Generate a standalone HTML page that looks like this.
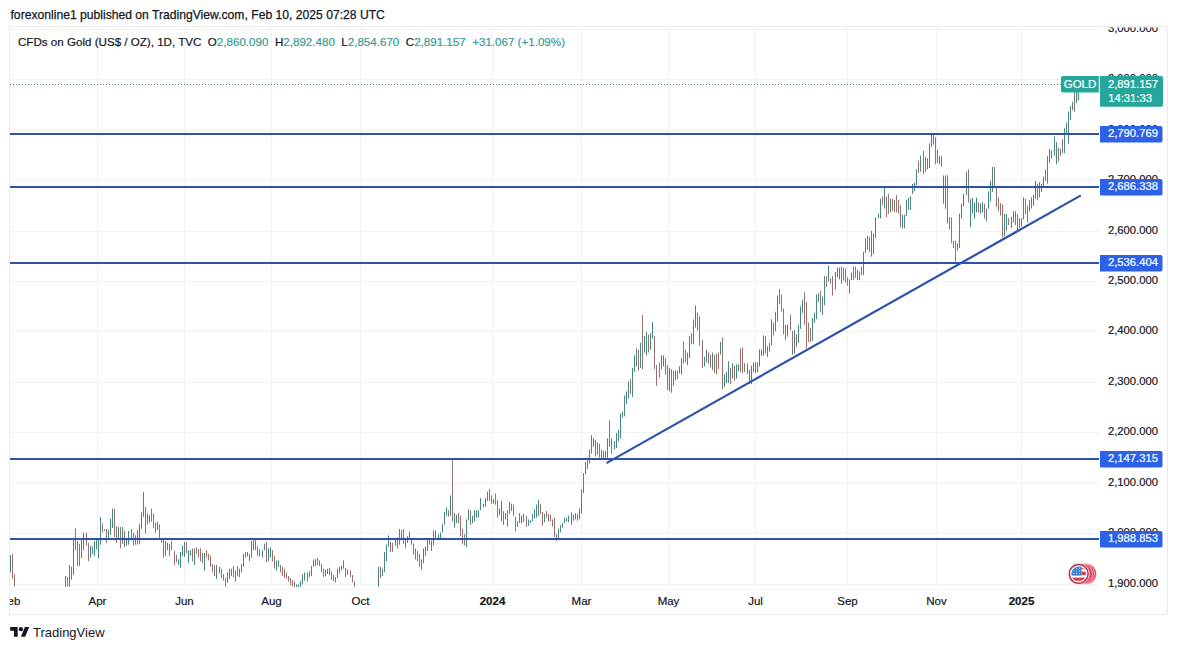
<!DOCTYPE html>
<html><head><meta charset="utf-8"><style>
html,body{margin:0;padding:0;background:#fff;width:1177px;height:650px;overflow:hidden}
svg{position:absolute;left:0;top:0}
text{font-family:"Liberation Sans",sans-serif}
.ax{font-size:11.25px;fill:#131722;stroke:#131722;stroke-width:0.2px}
.lb{font-size:11.25px;fill:#fff;stroke:#fff;stroke-width:0.2px}
.tl{font-size:11.5px;fill:#131722;stroke:#131722;stroke-width:0.2px}
.b{font-weight:bold}
.lg{font-size:11.6px;fill:#131722;stroke:#131722;stroke-width:0.2px}
.tv{fill:#3a9b90;stroke:#3a9b90}
</style></head><body>
<svg width="1177" height="650" viewBox="0 0 1177 650">
<defs>
<clipPath id="pane"><rect x="10" y="27" width="1089" height="560"/></clipPath>
<clipPath id="axc"><rect x="1099" y="27.5" width="68" height="587"/></clipPath>
<clipPath id="tax"><rect x="10" y="587" width="1089" height="27"/></clipPath>
<clipPath id="flagc"><circle cx="1078.7" cy="573.9" r="7.4"/></clipPath>
</defs>
<text x="10.5" y="18.8" style="font-size:12.15px;stroke:#131722;stroke-width:0.25px" fill="#131722">forexonline1 published on TradingView.com, Feb 10, 2025 07:28 UTC</text>
<rect x="9.5" y="26.5" width="1158" height="588" fill="none" stroke="#ebebeb" stroke-width="1"/>
<rect x="10" y="589" width="1089" height="1" fill="#f8f8f8"/><rect x="10" y="609" width="1157" height="1" fill="#fafafa"/>
<g clip-path="url(#pane)">
<rect x="10" y="29" width="1089" height="1" fill="#f2f2f2"/><rect x="10" y="79" width="1089" height="1" fill="#f2f2f2"/><rect x="10" y="130" width="1089" height="1" fill="#f2f2f2"/><rect x="10" y="180" width="1089" height="1" fill="#f2f2f2"/><rect x="10" y="231" width="1089" height="1" fill="#f2f2f2"/><rect x="10" y="281" width="1089" height="1" fill="#f2f2f2"/><rect x="10" y="331" width="1089" height="1" fill="#f2f2f2"/><rect x="10" y="382" width="1089" height="1" fill="#f2f2f2"/><rect x="10" y="432" width="1089" height="1" fill="#f2f2f2"/><rect x="10" y="483" width="1089" height="1" fill="#f2f2f2"/><rect x="10" y="533" width="1089" height="1" fill="#f2f2f2"/><rect x="10" y="584" width="1089" height="1" fill="#f2f2f2"/><rect x="97" y="27" width="1" height="560" fill="#f2f2f2"/><rect x="184" y="27" width="1" height="560" fill="#f2f2f2"/><rect x="271" y="27" width="1" height="560" fill="#f2f2f2"/><rect x="360" y="27" width="1" height="560" fill="#f2f2f2"/><rect x="492" y="27" width="1" height="560" fill="#f2f2f2"/><rect x="581" y="27" width="1" height="560" fill="#f2f2f2"/><rect x="668" y="27" width="1" height="560" fill="#f2f2f2"/><rect x="755" y="27" width="1" height="560" fill="#f2f2f2"/><rect x="847" y="27" width="1" height="560" fill="#f2f2f2"/><rect x="936" y="27" width="1" height="560" fill="#f2f2f2"/><rect x="1021" y="27" width="1" height="560" fill="#f2f2f2"/>
<rect x="10" y="554.8" width="1" height="17.6" fill="#47877f"/><rect x="12" y="553.9" width="1" height="24.9" fill="#98716d"/><rect x="14" y="574.2" width="1" height="12.6" fill="#98716d"/><rect x="65" y="576.1" width="1" height="10.7" fill="#47877f"/><rect x="67" y="577.0" width="1" height="9.2" fill="#98716d"/><rect x="69" y="565.0" width="1" height="21.8" fill="#47877f"/><rect x="71" y="566.8" width="1" height="12.9" fill="#47877f"/><rect x="73" y="539.1" width="1" height="36.0" fill="#47877f"/><rect x="75" y="528.4" width="1" height="21.8" fill="#98716d"/><rect x="77" y="541.0" width="1" height="24.9" fill="#98716d"/><rect x="79" y="543.7" width="1" height="22.2" fill="#98716d"/><rect x="81" y="538.2" width="1" height="19.9" fill="#47877f"/><rect x="83" y="532.7" width="1" height="17.6" fill="#47877f"/><rect x="86" y="532.7" width="1" height="12.9" fill="#98716d"/><rect x="88" y="542.8" width="1" height="18.5" fill="#98716d"/><rect x="90" y="545.6" width="1" height="12.0" fill="#47877f"/><rect x="92" y="546.5" width="1" height="7.4" fill="#47877f"/><rect x="94" y="541.0" width="1" height="14.8" fill="#47877f"/><rect x="96" y="539.1" width="1" height="10.2" fill="#47877f"/><rect x="98" y="540.0" width="1" height="18.5" fill="#47877f"/><rect x="100" y="516.9" width="1" height="27.7" fill="#47877f"/><rect x="102" y="523.4" width="1" height="9.2" fill="#98716d"/><rect x="104" y="529.0" width="1" height="1.8" fill="#98716d"/><rect x="106" y="529.0" width="1" height="13.9" fill="#98716d"/><rect x="108" y="529.9" width="1" height="8.3" fill="#47877f"/><rect x="110" y="518.8" width="1" height="15.7" fill="#47877f"/><rect x="112" y="508.6" width="1" height="19.4" fill="#47877f"/><rect x="114" y="508.6" width="1" height="28.6" fill="#98716d"/><rect x="116" y="526.2" width="1" height="16.6" fill="#98716d"/><rect x="118" y="527.1" width="1" height="12.9" fill="#47877f"/><rect x="120" y="527.1" width="1" height="21.2" fill="#98716d"/><rect x="122" y="527.1" width="1" height="16.6" fill="#47877f"/><rect x="124" y="530.8" width="1" height="16.6" fill="#98716d"/><rect x="126" y="538.2" width="1" height="7.4" fill="#47877f"/><rect x="128" y="530.8" width="1" height="13.9" fill="#47877f"/><rect x="131" y="529.0" width="1" height="11.1" fill="#98716d"/><rect x="133" y="532.7" width="1" height="12.9" fill="#98716d"/><rect x="135" y="535.4" width="1" height="9.2" fill="#47877f"/><rect x="137" y="529.9" width="1" height="14.8" fill="#98716d"/><rect x="139" y="524.3" width="1" height="19.4" fill="#47877f"/><rect x="141" y="512.3" width="1" height="16.6" fill="#47877f"/><rect x="143" y="492.0" width="1" height="24.9" fill="#47877f"/><rect x="145" y="506.8" width="1" height="26.8" fill="#98716d"/><rect x="147" y="513.3" width="1" height="11.1" fill="#47877f"/><rect x="149" y="515.1" width="1" height="7.4" fill="#47877f"/><rect x="151" y="508.6" width="1" height="12.9" fill="#98716d"/><rect x="153" y="513.3" width="1" height="14.8" fill="#98716d"/><rect x="155" y="522.5" width="1" height="10.2" fill="#98716d"/><rect x="157" y="521.6" width="1" height="8.3" fill="#47877f"/><rect x="159" y="524.3" width="1" height="13.9" fill="#98716d"/><rect x="161" y="538.2" width="1" height="4.6" fill="#98716d"/><rect x="163" y="539.1" width="1" height="18.5" fill="#98716d"/><rect x="165" y="541.0" width="1" height="14.8" fill="#47877f"/><rect x="167" y="542.8" width="1" height="7.4" fill="#47877f"/><rect x="169" y="543.7" width="1" height="12.0" fill="#47877f"/><rect x="171" y="541.0" width="1" height="9.2" fill="#98716d"/><rect x="174" y="551.1" width="1" height="13.9" fill="#98716d"/><rect x="176" y="554.8" width="1" height="7.4" fill="#98716d"/><rect x="178" y="559.4" width="1" height="5.5" fill="#47877f"/><rect x="180" y="552.0" width="1" height="15.7" fill="#47877f"/><rect x="182" y="545.6" width="1" height="10.2" fill="#47877f"/><rect x="184" y="541.9" width="1" height="14.8" fill="#47877f"/><rect x="186" y="541.9" width="1" height="11.1" fill="#98716d"/><rect x="188" y="550.2" width="1" height="12.9" fill="#47877f"/><rect x="190" y="550.2" width="1" height="5.5" fill="#47877f"/><rect x="192" y="548.4" width="1" height="12.9" fill="#98716d"/><rect x="194" y="548.4" width="1" height="16.6" fill="#47877f"/><rect x="196" y="547.4" width="1" height="6.5" fill="#98716d"/><rect x="198" y="549.3" width="1" height="8.3" fill="#98716d"/><rect x="200" y="548.4" width="1" height="12.9" fill="#98716d"/><rect x="202" y="553.0" width="1" height="10.2" fill="#98716d"/><rect x="204" y="553.0" width="1" height="17.6" fill="#47877f"/><rect x="206" y="550.2" width="1" height="7.4" fill="#98716d"/><rect x="208" y="553.9" width="1" height="6.5" fill="#98716d"/><rect x="210" y="555.7" width="1" height="11.1" fill="#98716d"/><rect x="212" y="564.1" width="1" height="8.3" fill="#98716d"/><rect x="214" y="565.0" width="1" height="11.1" fill="#98716d"/><rect x="216" y="565.0" width="1" height="13.9" fill="#47877f"/><rect x="219" y="566.8" width="1" height="6.5" fill="#47877f"/><rect x="221" y="568.7" width="1" height="9.2" fill="#98716d"/><rect x="223" y="574.2" width="1" height="6.5" fill="#98716d"/><rect x="225" y="577.9" width="1" height="8.7" fill="#98716d"/><rect x="227" y="572.4" width="1" height="10.2" fill="#47877f"/><rect x="229" y="568.7" width="1" height="10.2" fill="#47877f"/><rect x="231" y="568.7" width="1" height="7.4" fill="#47877f"/><rect x="233" y="565.9" width="1" height="11.1" fill="#98716d"/><rect x="235" y="570.5" width="1" height="11.1" fill="#98716d"/><rect x="237" y="565.9" width="1" height="10.2" fill="#98716d"/><rect x="239" y="568.7" width="1" height="8.3" fill="#47877f"/><rect x="241" y="564.1" width="1" height="8.3" fill="#47877f"/><rect x="243" y="553.9" width="1" height="12.9" fill="#47877f"/><rect x="245" y="552.0" width="1" height="5.5" fill="#98716d"/><rect x="247" y="552.0" width="1" height="4.6" fill="#98716d"/><rect x="249" y="553.9" width="1" height="7.4" fill="#98716d"/><rect x="251" y="541.0" width="1" height="16.6" fill="#47877f"/><rect x="253" y="540.0" width="1" height="10.2" fill="#98716d"/><rect x="255" y="540.0" width="1" height="10.2" fill="#98716d"/><rect x="257" y="546.5" width="1" height="9.2" fill="#98716d"/><rect x="259" y="549.3" width="1" height="7.4" fill="#98716d"/><rect x="262" y="550.2" width="1" height="7.4" fill="#47877f"/><rect x="264" y="543.7" width="1" height="6.5" fill="#47877f"/><rect x="266" y="541.9" width="1" height="20.3" fill="#98716d"/><rect x="268" y="548.4" width="1" height="12.9" fill="#47877f"/><rect x="270" y="547.4" width="1" height="10.2" fill="#47877f"/><rect x="272" y="550.2" width="1" height="11.1" fill="#98716d"/><rect x="274" y="555.7" width="1" height="12.9" fill="#98716d"/><rect x="276" y="560.4" width="1" height="10.2" fill="#47877f"/><rect x="278" y="560.4" width="1" height="6.5" fill="#47877f"/><rect x="280" y="565.0" width="1" height="7.4" fill="#98716d"/><rect x="282" y="566.8" width="1" height="9.2" fill="#98716d"/><rect x="284" y="568.7" width="1" height="9.2" fill="#98716d"/><rect x="286" y="572.4" width="1" height="6.5" fill="#98716d"/><rect x="288" y="576.1" width="1" height="5.5" fill="#98716d"/><rect x="290" y="577.9" width="1" height="7.4" fill="#98716d"/><rect x="292" y="579.8" width="1" height="6.5" fill="#98716d"/><rect x="294" y="581.6" width="1" height="5.2" fill="#98716d"/><rect x="296" y="584.4" width="1" height="2.8" fill="#47877f"/><rect x="298" y="584.4" width="1" height="2.4" fill="#47877f"/><rect x="300" y="580.7" width="1" height="6.1" fill="#47877f"/><rect x="302" y="574.2" width="1" height="10.2" fill="#47877f"/><rect x="304" y="572.4" width="1" height="8.3" fill="#47877f"/><rect x="307" y="572.4" width="1" height="9.2" fill="#98716d"/><rect x="309" y="571.4" width="1" height="5.5" fill="#47877f"/><rect x="311" y="565.9" width="1" height="10.2" fill="#47877f"/><rect x="313" y="559.4" width="1" height="7.4" fill="#47877f"/><rect x="315" y="559.4" width="1" height="6.5" fill="#47877f"/><rect x="317" y="557.6" width="1" height="7.4" fill="#98716d"/><rect x="319" y="560.4" width="1" height="5.5" fill="#98716d"/><rect x="321" y="564.1" width="1" height="8.3" fill="#98716d"/><rect x="323" y="568.7" width="1" height="8.3" fill="#98716d"/><rect x="325" y="569.6" width="1" height="6.5" fill="#47877f"/><rect x="327" y="568.7" width="1" height="5.5" fill="#47877f"/><rect x="329" y="567.8" width="1" height="7.4" fill="#47877f"/><rect x="331" y="571.4" width="1" height="8.3" fill="#98716d"/><rect x="333" y="575.1" width="1" height="6.1" fill="#98716d"/><rect x="335" y="577.0" width="1" height="5.5" fill="#98716d"/><rect x="337" y="568.7" width="1" height="9.2" fill="#47877f"/><rect x="339" y="566.8" width="1" height="6.5" fill="#47877f"/><rect x="341" y="565.9" width="1" height="4.6" fill="#47877f"/><rect x="343" y="560.4" width="1" height="8.3" fill="#47877f"/><rect x="345" y="567.8" width="1" height="9.2" fill="#98716d"/><rect x="347" y="569.6" width="1" height="5.5" fill="#98716d"/><rect x="350" y="570.5" width="1" height="6.5" fill="#98716d"/><rect x="352" y="575.1" width="1" height="7.4" fill="#98716d"/><rect x="354" y="581.6" width="1" height="5.2" fill="#98716d"/><rect x="378" y="566.8" width="1" height="20.0" fill="#47877f"/><rect x="380" y="566.8" width="1" height="11.1" fill="#98716d"/><rect x="382" y="568.7" width="1" height="7.4" fill="#47877f"/><rect x="384" y="552.0" width="1" height="20.3" fill="#47877f"/><rect x="386" y="544.7" width="1" height="16.6" fill="#47877f"/><rect x="388" y="535.4" width="1" height="11.1" fill="#47877f"/><rect x="390" y="541.9" width="1" height="10.2" fill="#98716d"/><rect x="392" y="542.8" width="1" height="9.2" fill="#98716d"/><rect x="395" y="538.2" width="1" height="7.4" fill="#47877f"/><rect x="397" y="537.3" width="1" height="11.1" fill="#47877f"/><rect x="399" y="529.0" width="1" height="15.7" fill="#47877f"/><rect x="401" y="529.9" width="1" height="9.2" fill="#98716d"/><rect x="403" y="529.0" width="1" height="14.8" fill="#98716d"/><rect x="405" y="538.2" width="1" height="10.2" fill="#98716d"/><rect x="407" y="536.3" width="1" height="6.5" fill="#47877f"/><rect x="409" y="531.7" width="1" height="7.4" fill="#47877f"/><rect x="411" y="538.2" width="1" height="6.5" fill="#98716d"/><rect x="413" y="543.7" width="1" height="11.1" fill="#98716d"/><rect x="415" y="548.4" width="1" height="11.1" fill="#98716d"/><rect x="417" y="551.1" width="1" height="10.2" fill="#98716d"/><rect x="419" y="553.9" width="1" height="12.9" fill="#98716d"/><rect x="421" y="559.4" width="1" height="10.2" fill="#47877f"/><rect x="423" y="548.4" width="1" height="14.8" fill="#47877f"/><rect x="425" y="546.5" width="1" height="9.2" fill="#47877f"/><rect x="427" y="539.1" width="1" height="12.0" fill="#98716d"/><rect x="429" y="538.2" width="1" height="6.5" fill="#98716d"/><rect x="431" y="540.7" width="1" height="10.2" fill="#47877f"/><rect x="433" y="530.5" width="1" height="14.8" fill="#47877f"/><rect x="435" y="530.5" width="1" height="7.4" fill="#47877f"/><rect x="438" y="534.2" width="1" height="3.7" fill="#47877f"/><rect x="440" y="532.4" width="1" height="5.5" fill="#47877f"/><rect x="442" y="524.1" width="1" height="8.3" fill="#47877f"/><rect x="444" y="512.0" width="1" height="12.9" fill="#47877f"/><rect x="446" y="507.4" width="1" height="8.3" fill="#47877f"/><rect x="448" y="510.2" width="1" height="6.5" fill="#98716d"/><rect x="450" y="495.4" width="1" height="20.3" fill="#47877f"/><rect x="452" y="459.4" width="1" height="61.9" fill="#98716d"/><rect x="454" y="513.0" width="1" height="14.8" fill="#47877f"/><rect x="456" y="514.8" width="1" height="8.3" fill="#47877f"/><rect x="458" y="513.0" width="1" height="10.2" fill="#98716d"/><rect x="460" y="515.7" width="1" height="20.3" fill="#98716d"/><rect x="462" y="528.7" width="1" height="15.7" fill="#98716d"/><rect x="464" y="534.2" width="1" height="11.1" fill="#98716d"/><rect x="466" y="519.4" width="1" height="27.7" fill="#47877f"/><rect x="468" y="509.3" width="1" height="11.1" fill="#47877f"/><rect x="470" y="510.2" width="1" height="14.8" fill="#98716d"/><rect x="472" y="515.7" width="1" height="7.4" fill="#47877f"/><rect x="474" y="510.2" width="1" height="11.1" fill="#47877f"/><rect x="476" y="510.2" width="1" height="7.4" fill="#47877f"/><rect x="478" y="510.2" width="1" height="7.4" fill="#47877f"/><rect x="480" y="498.2" width="1" height="12.0" fill="#47877f"/><rect x="483" y="503.7" width="1" height="3.7" fill="#47877f"/><rect x="485" y="498.2" width="1" height="8.3" fill="#47877f"/><rect x="487" y="491.7" width="1" height="9.2" fill="#47877f"/><rect x="489" y="489.0" width="1" height="12.0" fill="#98716d"/><rect x="491" y="495.4" width="1" height="8.3" fill="#98716d"/><rect x="493" y="499.1" width="1" height="4.6" fill="#47877f"/><rect x="495" y="493.6" width="1" height="11.1" fill="#98716d"/><rect x="497" y="500.0" width="1" height="17.6" fill="#98716d"/><rect x="499" y="508.4" width="1" height="6.5" fill="#47877f"/><rect x="501" y="501.0" width="1" height="20.3" fill="#47877f"/><rect x="503" y="511.1" width="1" height="13.9" fill="#98716d"/><rect x="505" y="513.0" width="1" height="6.5" fill="#47877f"/><rect x="507" y="510.2" width="1" height="16.6" fill="#98716d"/><rect x="509" y="501.9" width="1" height="12.0" fill="#47877f"/><rect x="511" y="503.7" width="1" height="7.4" fill="#47877f"/><rect x="513" y="504.7" width="1" height="11.1" fill="#98716d"/><rect x="515" y="516.7" width="1" height="14.8" fill="#98716d"/><rect x="517" y="521.3" width="1" height="5.5" fill="#47877f"/><rect x="519" y="513.0" width="1" height="10.2" fill="#98716d"/><rect x="521" y="515.7" width="1" height="7.4" fill="#47877f"/><rect x="523" y="513.9" width="1" height="8.3" fill="#98716d"/><rect x="526" y="515.7" width="1" height="11.1" fill="#98716d"/><rect x="528" y="519.4" width="1" height="6.5" fill="#47877f"/><rect x="530" y="520.4" width="1" height="2.8" fill="#47877f"/><rect x="532" y="513.9" width="1" height="7.4" fill="#47877f"/><rect x="534" y="509.3" width="1" height="9.2" fill="#47877f"/><rect x="536" y="504.7" width="1" height="12.9" fill="#47877f"/><rect x="538" y="500.0" width="1" height="15.7" fill="#47877f"/><rect x="540" y="503.7" width="1" height="10.2" fill="#98716d"/><rect x="542" y="512.0" width="1" height="13.9" fill="#98716d"/><rect x="544" y="513.9" width="1" height="8.3" fill="#47877f"/><rect x="546" y="511.1" width="1" height="6.5" fill="#98716d"/><rect x="548" y="513.9" width="1" height="7.4" fill="#98716d"/><rect x="550" y="514.8" width="1" height="6.5" fill="#98716d"/><rect x="552" y="519.4" width="1" height="7.4" fill="#98716d"/><rect x="554" y="517.6" width="1" height="19.4" fill="#98716d"/><rect x="556" y="534.2" width="1" height="6.5" fill="#98716d"/><rect x="558" y="528.7" width="1" height="9.2" fill="#47877f"/><rect x="560" y="525.0" width="1" height="7.4" fill="#47877f"/><rect x="562" y="523.1" width="1" height="4.6" fill="#47877f"/><rect x="564" y="517.6" width="1" height="5.5" fill="#47877f"/><rect x="566" y="517.6" width="1" height="3.7" fill="#47877f"/><rect x="568" y="515.7" width="1" height="6.5" fill="#47877f"/><rect x="571" y="512.3" width="1" height="12.3" fill="#47877f"/><rect x="573" y="514.6" width="1" height="6.2" fill="#98716d"/><rect x="575" y="513.1" width="1" height="6.2" fill="#47877f"/><rect x="577" y="513.8" width="1" height="6.9" fill="#98716d"/><rect x="579" y="508.5" width="1" height="10.8" fill="#47877f"/><rect x="581" y="489.2" width="1" height="24.6" fill="#47877f"/><rect x="583" y="473.1" width="1" height="20.0" fill="#47877f"/><rect x="585" y="461.9" width="1" height="12.5" fill="#47877f"/><rect x="587" y="457.8" width="1" height="11.1" fill="#47877f"/><rect x="589" y="449.5" width="1" height="13.8" fill="#47877f"/><rect x="591" y="435.1" width="1" height="18.5" fill="#47877f"/><rect x="593" y="438.4" width="1" height="8.3" fill="#47877f"/><rect x="595" y="439.8" width="1" height="16.6" fill="#98716d"/><rect x="597" y="442.5" width="1" height="12.5" fill="#98716d"/><rect x="599" y="443.9" width="1" height="13.8" fill="#98716d"/><rect x="601" y="449.5" width="1" height="9.7" fill="#98716d"/><rect x="603" y="450.8" width="1" height="8.3" fill="#47877f"/><rect x="605" y="450.8" width="1" height="6.9" fill="#47877f"/><rect x="607" y="438.4" width="1" height="19.4" fill="#47877f"/><rect x="609" y="420.4" width="1" height="26.3" fill="#98716d"/><rect x="611" y="438.4" width="1" height="15.2" fill="#98716d"/><rect x="614" y="441.2" width="1" height="8.3" fill="#47877f"/><rect x="616" y="432.9" width="1" height="15.2" fill="#47877f"/><rect x="618" y="430.1" width="1" height="11.1" fill="#47877f"/><rect x="620" y="413.5" width="1" height="24.9" fill="#47877f"/><rect x="622" y="412.1" width="1" height="5.5" fill="#47877f"/><rect x="624" y="395.5" width="1" height="20.8" fill="#47877f"/><rect x="626" y="391.3" width="1" height="12.5" fill="#47877f"/><rect x="628" y="381.6" width="1" height="16.6" fill="#47877f"/><rect x="630" y="378.9" width="1" height="15.2" fill="#98716d"/><rect x="632" y="367.8" width="1" height="29.1" fill="#47877f"/><rect x="634" y="355.4" width="1" height="16.6" fill="#47877f"/><rect x="636" y="348.4" width="1" height="18.0" fill="#47877f"/><rect x="638" y="349.8" width="1" height="20.8" fill="#98716d"/><rect x="640" y="342.9" width="1" height="24.9" fill="#47877f"/><rect x="642" y="315.2" width="1" height="54.0" fill="#98716d"/><rect x="644" y="336.0" width="1" height="16.6" fill="#47877f"/><rect x="646" y="331.8" width="1" height="23.5" fill="#47877f"/><rect x="648" y="334.6" width="1" height="18.0" fill="#98716d"/><rect x="650" y="333.2" width="1" height="16.6" fill="#47877f"/><rect x="652" y="322.1" width="1" height="16.6" fill="#47877f"/><rect x="654" y="336.0" width="1" height="33.2" fill="#98716d"/><rect x="656" y="365.0" width="1" height="20.8" fill="#98716d"/><rect x="659" y="362.3" width="1" height="15.2" fill="#98716d"/><rect x="661" y="355.4" width="1" height="13.8" fill="#47877f"/><rect x="663" y="355.4" width="1" height="11.1" fill="#47877f"/><rect x="665" y="358.1" width="1" height="16.6" fill="#98716d"/><rect x="667" y="365.0" width="1" height="24.9" fill="#98716d"/><rect x="669" y="367.8" width="1" height="23.5" fill="#47877f"/><rect x="671" y="369.2" width="1" height="23.5" fill="#98716d"/><rect x="673" y="370.6" width="1" height="15.2" fill="#98716d"/><rect x="675" y="370.6" width="1" height="9.7" fill="#47877f"/><rect x="677" y="370.6" width="1" height="8.3" fill="#98716d"/><rect x="679" y="366.4" width="1" height="6.9" fill="#47877f"/><rect x="681" y="358.1" width="1" height="16.6" fill="#47877f"/><rect x="683" y="341.5" width="1" height="22.1" fill="#98716d"/><rect x="685" y="349.8" width="1" height="12.5" fill="#98716d"/><rect x="687" y="352.6" width="1" height="12.5" fill="#47877f"/><rect x="689" y="336.0" width="1" height="22.1" fill="#47877f"/><rect x="691" y="333.2" width="1" height="11.1" fill="#47877f"/><rect x="693" y="319.4" width="1" height="24.9" fill="#47877f"/><rect x="695" y="305.5" width="1" height="22.1" fill="#47877f"/><rect x="697" y="312.5" width="1" height="18.0" fill="#98716d"/><rect x="699" y="316.6" width="1" height="29.1" fill="#98716d"/><rect x="702" y="340.1" width="1" height="27.7" fill="#98716d"/><rect x="704" y="356.7" width="1" height="9.7" fill="#47877f"/><rect x="706" y="349.8" width="1" height="12.5" fill="#47877f"/><rect x="708" y="352.6" width="1" height="11.1" fill="#98716d"/><rect x="710" y="354.8" width="1" height="12.9" fill="#98716d"/><rect x="712" y="352.7" width="1" height="17.2" fill="#47877f"/><rect x="714" y="354.8" width="1" height="18.3" fill="#98716d"/><rect x="716" y="353.8" width="1" height="20.5" fill="#98716d"/><rect x="718" y="352.7" width="1" height="16.2" fill="#98716d"/><rect x="720" y="341.9" width="1" height="12.9" fill="#47877f"/><rect x="722" y="337.6" width="1" height="51.7" fill="#98716d"/><rect x="724" y="374.2" width="1" height="12.9" fill="#47877f"/><rect x="726" y="372.1" width="1" height="10.8" fill="#47877f"/><rect x="728" y="361.3" width="1" height="21.6" fill="#47877f"/><rect x="730" y="367.8" width="1" height="16.2" fill="#98716d"/><rect x="732" y="363.4" width="1" height="15.1" fill="#47877f"/><rect x="734" y="365.6" width="1" height="15.1" fill="#98716d"/><rect x="736" y="364.5" width="1" height="14.0" fill="#47877f"/><rect x="738" y="364.5" width="1" height="6.5" fill="#47877f"/><rect x="740" y="348.4" width="1" height="23.7" fill="#98716d"/><rect x="742" y="347.3" width="1" height="25.9" fill="#98716d"/><rect x="744" y="363.4" width="1" height="8.6" fill="#98716d"/><rect x="747" y="363.4" width="1" height="10.8" fill="#98716d"/><rect x="749" y="369.9" width="1" height="14.0" fill="#47877f"/><rect x="751" y="365.6" width="1" height="18.3" fill="#47877f"/><rect x="753" y="362.4" width="1" height="9.7" fill="#47877f"/><rect x="755" y="362.4" width="1" height="10.8" fill="#47877f"/><rect x="757" y="362.4" width="1" height="9.7" fill="#47877f"/><rect x="759" y="349.4" width="1" height="17.2" fill="#47877f"/><rect x="761" y="349.4" width="1" height="6.5" fill="#47877f"/><rect x="763" y="335.4" width="1" height="20.5" fill="#47877f"/><rect x="765" y="336.5" width="1" height="17.2" fill="#98716d"/><rect x="767" y="346.2" width="1" height="10.8" fill="#47877f"/><rect x="769" y="343.0" width="1" height="8.6" fill="#47877f"/><rect x="771" y="319.3" width="1" height="25.9" fill="#47877f"/><rect x="773" y="322.5" width="1" height="12.9" fill="#98716d"/><rect x="775" y="311.7" width="1" height="19.4" fill="#47877f"/><rect x="777" y="295.6" width="1" height="25.9" fill="#47877f"/><rect x="779" y="289.1" width="1" height="15.1" fill="#98716d"/><rect x="781" y="294.5" width="1" height="17.2" fill="#98716d"/><rect x="783" y="308.5" width="1" height="25.9" fill="#98716d"/><rect x="785" y="324.7" width="1" height="15.1" fill="#98716d"/><rect x="787" y="324.7" width="1" height="11.9" fill="#47877f"/><rect x="790" y="315.0" width="1" height="15.1" fill="#98716d"/><rect x="792" y="331.1" width="1" height="23.7" fill="#98716d"/><rect x="794" y="330.0" width="1" height="23.7" fill="#47877f"/><rect x="796" y="334.4" width="1" height="12.9" fill="#98716d"/><rect x="798" y="324.7" width="1" height="18.3" fill="#47877f"/><rect x="800" y="306.3" width="1" height="22.6" fill="#47877f"/><rect x="802" y="299.9" width="1" height="12.9" fill="#47877f"/><rect x="804" y="292.3" width="1" height="32.3" fill="#98716d"/><rect x="806" y="302.0" width="1" height="46.3" fill="#98716d"/><rect x="808" y="322.5" width="1" height="19.4" fill="#98716d"/><rect x="810" y="327.9" width="1" height="14.0" fill="#98716d"/><rect x="812" y="318.2" width="1" height="22.6" fill="#47877f"/><rect x="814" y="312.8" width="1" height="9.7" fill="#47877f"/><rect x="816" y="294.5" width="1" height="24.8" fill="#47877f"/><rect x="818" y="293.4" width="1" height="8.6" fill="#47877f"/><rect x="820" y="291.2" width="1" height="20.5" fill="#98716d"/><rect x="822" y="296.6" width="1" height="18.3" fill="#47877f"/><rect x="824" y="276.2" width="1" height="29.1" fill="#47877f"/><rect x="826" y="276.2" width="1" height="10.8" fill="#98716d"/><rect x="828" y="265.4" width="1" height="16.2" fill="#47877f"/><rect x="830" y="278.3" width="1" height="5.4" fill="#98716d"/><rect x="832" y="276.2" width="1" height="19.4" fill="#98716d"/><rect x="835" y="271.9" width="1" height="17.2" fill="#47877f"/><rect x="837" y="267.5" width="1" height="9.7" fill="#47877f"/><rect x="839" y="267.5" width="1" height="11.9" fill="#47877f"/><rect x="841" y="266.5" width="1" height="17.2" fill="#98716d"/><rect x="843" y="267.5" width="1" height="12.9" fill="#98716d"/><rect x="845" y="268.6" width="1" height="14.0" fill="#98716d"/><rect x="847" y="277.2" width="1" height="8.6" fill="#98716d"/><rect x="849" y="279.4" width="1" height="14.0" fill="#98716d"/><rect x="851" y="272.7" width="1" height="7.4" fill="#47877f"/><rect x="853" y="266.6" width="1" height="13.5" fill="#98716d"/><rect x="855" y="266.6" width="1" height="11.1" fill="#98716d"/><rect x="857" y="270.2" width="1" height="9.9" fill="#47877f"/><rect x="859" y="271.5" width="1" height="8.6" fill="#47877f"/><rect x="861" y="266.6" width="1" height="8.6" fill="#98716d"/><rect x="863" y="251.8" width="1" height="23.4" fill="#47877f"/><rect x="865" y="238.2" width="1" height="14.8" fill="#47877f"/><rect x="867" y="235.8" width="1" height="13.5" fill="#47877f"/><rect x="869" y="237.0" width="1" height="14.8" fill="#98716d"/><rect x="871" y="230.8" width="1" height="25.9" fill="#47877f"/><rect x="873" y="233.3" width="1" height="20.9" fill="#47877f"/><rect x="875" y="217.3" width="1" height="20.9" fill="#47877f"/><rect x="878" y="213.6" width="1" height="4.9" fill="#47877f"/><rect x="880" y="198.8" width="1" height="19.7" fill="#47877f"/><rect x="882" y="196.4" width="1" height="8.6" fill="#98716d"/><rect x="884" y="187.7" width="1" height="20.9" fill="#47877f"/><rect x="886" y="196.4" width="1" height="20.9" fill="#98716d"/><rect x="888" y="193.9" width="1" height="19.7" fill="#98716d"/><rect x="890" y="198.8" width="1" height="13.5" fill="#47877f"/><rect x="892" y="198.8" width="1" height="12.3" fill="#98716d"/><rect x="894" y="200.0" width="1" height="12.3" fill="#98716d"/><rect x="896" y="195.1" width="1" height="17.2" fill="#98716d"/><rect x="898" y="200.0" width="1" height="13.5" fill="#98716d"/><rect x="900" y="205.0" width="1" height="22.2" fill="#98716d"/><rect x="902" y="214.8" width="1" height="13.5" fill="#47877f"/><rect x="904" y="214.8" width="1" height="13.5" fill="#47877f"/><rect x="906" y="200.0" width="1" height="16.0" fill="#47877f"/><rect x="908" y="197.6" width="1" height="12.3" fill="#47877f"/><rect x="910" y="196.4" width="1" height="13.5" fill="#47877f"/><rect x="912" y="184.0" width="1" height="9.9" fill="#47877f"/><rect x="914" y="182.8" width="1" height="8.6" fill="#47877f"/><rect x="916" y="169.3" width="1" height="16.0" fill="#47877f"/><rect x="918" y="160.6" width="1" height="12.3" fill="#98716d"/><rect x="920" y="155.7" width="1" height="16.0" fill="#47877f"/><rect x="923" y="150.8" width="1" height="23.4" fill="#98716d"/><rect x="925" y="156.9" width="1" height="14.8" fill="#47877f"/><rect x="927" y="158.2" width="1" height="11.1" fill="#47877f"/><rect x="929" y="143.4" width="1" height="24.6" fill="#47877f"/><rect x="931" y="134.8" width="1" height="12.3" fill="#47877f"/><rect x="933" y="134.8" width="1" height="9.9" fill="#47877f"/><rect x="935" y="137.2" width="1" height="27.1" fill="#98716d"/><rect x="937" y="149.6" width="1" height="13.5" fill="#98716d"/><rect x="939" y="155.7" width="1" height="8.6" fill="#47877f"/><rect x="941" y="155.7" width="1" height="11.1" fill="#98716d"/><rect x="943" y="175.4" width="1" height="28.3" fill="#47877f"/><rect x="945" y="175.4" width="1" height="33.3" fill="#47877f"/><rect x="947" y="175.4" width="1" height="48.0" fill="#98716d"/><rect x="949" y="217.3" width="1" height="12.3" fill="#98716d"/><rect x="951" y="217.3" width="1" height="25.9" fill="#98716d"/><rect x="953" y="240.7" width="1" height="7.4" fill="#98716d"/><rect x="955" y="240.7" width="1" height="20.9" fill="#98716d"/><rect x="957" y="243.2" width="1" height="7.4" fill="#47877f"/><rect x="959" y="213.6" width="1" height="34.5" fill="#47877f"/><rect x="961" y="203.7" width="1" height="14.8" fill="#47877f"/><rect x="963" y="193.9" width="1" height="12.3" fill="#47877f"/><rect x="966" y="171.7" width="1" height="23.4" fill="#47877f"/><rect x="968" y="169.3" width="1" height="33.3" fill="#98716d"/><rect x="970" y="198.8" width="1" height="28.3" fill="#47877f"/><rect x="972" y="197.6" width="1" height="16.0" fill="#47877f"/><rect x="974" y="202.5" width="1" height="16.0" fill="#47877f"/><rect x="976" y="197.6" width="1" height="14.8" fill="#47877f"/><rect x="978" y="202.5" width="1" height="9.9" fill="#98716d"/><rect x="980" y="203.7" width="1" height="9.9" fill="#47877f"/><rect x="982" y="202.5" width="1" height="9.9" fill="#47877f"/><rect x="984" y="203.7" width="1" height="14.8" fill="#98716d"/><rect x="986" y="208.7" width="1" height="12.3" fill="#47877f"/><rect x="988" y="191.4" width="1" height="17.2" fill="#47877f"/><rect x="990" y="180.8" width="1" height="20.8" fill="#47877f"/><rect x="992" y="167.0" width="1" height="24.9" fill="#47877f"/><rect x="994" y="167.0" width="1" height="19.4" fill="#98716d"/><rect x="996" y="186.3" width="1" height="20.8" fill="#98716d"/><rect x="998" y="197.4" width="1" height="13.9" fill="#98716d"/><rect x="1000" y="203.0" width="1" height="12.5" fill="#98716d"/><rect x="1002" y="204.3" width="1" height="33.2" fill="#98716d"/><rect x="1004" y="214.0" width="1" height="22.2" fill="#47877f"/><rect x="1006" y="214.0" width="1" height="16.6" fill="#47877f"/><rect x="1008" y="218.2" width="1" height="6.9" fill="#98716d"/><rect x="1011" y="216.8" width="1" height="11.1" fill="#47877f"/><rect x="1013" y="211.3" width="1" height="11.1" fill="#47877f"/><rect x="1015" y="211.3" width="1" height="13.9" fill="#98716d"/><rect x="1017" y="214.0" width="1" height="16.6" fill="#98716d"/><rect x="1019" y="218.2" width="1" height="9.7" fill="#47877f"/><rect x="1021" y="218.2" width="1" height="8.3" fill="#47877f"/><rect x="1023" y="197.4" width="1" height="22.2" fill="#47877f"/><rect x="1025" y="198.8" width="1" height="15.2" fill="#98716d"/><rect x="1027" y="205.7" width="1" height="16.6" fill="#98716d"/><rect x="1029" y="200.2" width="1" height="11.1" fill="#47877f"/><rect x="1031" y="197.4" width="1" height="11.1" fill="#47877f"/><rect x="1033" y="194.7" width="1" height="11.1" fill="#47877f"/><rect x="1035" y="180.8" width="1" height="18.0" fill="#47877f"/><rect x="1037" y="183.6" width="1" height="16.6" fill="#98716d"/><rect x="1039" y="182.2" width="1" height="15.2" fill="#47877f"/><rect x="1041" y="183.6" width="1" height="8.3" fill="#47877f"/><rect x="1043" y="176.6" width="1" height="9.7" fill="#47877f"/><rect x="1045" y="169.7" width="1" height="11.1" fill="#98716d"/><rect x="1047" y="155.9" width="1" height="27.7" fill="#47877f"/><rect x="1049" y="148.9" width="1" height="13.9" fill="#47877f"/><rect x="1051" y="150.3" width="1" height="8.3" fill="#47877f"/><rect x="1054" y="136.5" width="1" height="19.4" fill="#47877f"/><rect x="1056" y="142.0" width="1" height="22.2" fill="#47877f"/><rect x="1058" y="147.6" width="1" height="13.9" fill="#98716d"/><rect x="1060" y="148.9" width="1" height="6.9" fill="#47877f"/><rect x="1062" y="139.3" width="1" height="13.9" fill="#98716d"/><rect x="1064" y="128.2" width="1" height="24.9" fill="#47877f"/><rect x="1066" y="122.6" width="1" height="11.1" fill="#47877f"/><rect x="1068" y="111.6" width="1" height="31.9" fill="#47877f"/><rect x="1070" y="106.0" width="1" height="13.9" fill="#47877f"/><rect x="1072" y="101.9" width="1" height="8.3" fill="#47877f"/><rect x="1074" y="89.4" width="1" height="22.2" fill="#98716d"/><rect x="1076" y="90.8" width="1" height="12.5" fill="#47877f"/><rect x="1078" y="90.8" width="1" height="9.7" fill="#47877f"/>
<rect x="10" y="133" width="1090" height="2" fill="#2e52ab"/><rect x="10" y="186" width="1090" height="2" fill="#2e52ab"/><rect x="10" y="262" width="1090" height="2" fill="#2e52ab"/><rect x="10" y="458" width="1090" height="2" fill="#2e52ab"/><rect x="10" y="538" width="1090" height="2" fill="#2e52ab"/>
<line x1="607.3" y1="462.6" x2="1080" y2="195.9" stroke="#2e52ab" stroke-width="2.2" stroke-linecap="round"/>
<line x1="10" y1="84.5" x2="1061" y2="84.5" stroke="#4a7d78" stroke-width="1" stroke-dasharray="1 2"/>
</g>
<text x="18" y="45.6" class="lg" xml:space="preserve">CFDs on Gold (US$ / OZ), 1D, TVC  O<tspan class="tv">2,860.090</tspan>  H<tspan class="tv">2,892.480</tspan>  L<tspan class="tv">2,854.670</tspan>  C<tspan class="tv">2,891.157</tspan>  <tspan class="tv">+31.067 (+1.09%)</tspan></text>
<g clip-path="url(#axc)">
<text x="1158" y="586.7" text-anchor="end" class="ax">1,900.000</text><text x="1158" y="535.7" text-anchor="end" class="ax">2,000.000</text><text x="1158" y="485.7" text-anchor="end" class="ax">2,100.000</text><text x="1158" y="434.7" text-anchor="end" class="ax">2,200.000</text><text x="1158" y="384.7" text-anchor="end" class="ax">2,300.000</text><text x="1158" y="333.7" text-anchor="end" class="ax">2,400.000</text><text x="1158" y="283.7" text-anchor="end" class="ax">2,500.000</text><text x="1158" y="233.7" text-anchor="end" class="ax">2,600.000</text><text x="1158" y="182.7" text-anchor="end" class="ax">2,700.000</text><text x="1158" y="132.7" text-anchor="end" class="ax">2,800.000</text><text x="1158" y="81.7" text-anchor="end" class="ax">2,900.000</text><text x="1158" y="31.7" text-anchor="end" class="ax">3,000.000</text>
<path d="M1100 126.0 h60.5 a2 2 0 0 1 2 2 v12.6 a2 2 0 0 1 -2 2 h-60.5 z" fill="#2d62e6"/><text x="1158" y="137.2" text-anchor="end" class="lb">2,790.769</text><path d="M1100 179.0 h60.5 a2 2 0 0 1 2 2 v12.6 a2 2 0 0 1 -2 2 h-60.5 z" fill="#2d62e6"/><text x="1158" y="190.2" text-anchor="end" class="lb">2,686.338</text><path d="M1100 255.0 h60.5 a2 2 0 0 1 2 2 v12.6 a2 2 0 0 1 -2 2 h-60.5 z" fill="#2d62e6"/><text x="1158" y="266.2" text-anchor="end" class="lb">2,536.404</text><path d="M1100 451.0 h60.5 a2 2 0 0 1 2 2 v12.6 a2 2 0 0 1 -2 2 h-60.5 z" fill="#2d62e6"/><text x="1158" y="462.2" text-anchor="end" class="lb">2,147.315</text><path d="M1100 531.0 h60.5 a2 2 0 0 1 2 2 v12.6 a2 2 0 0 1 -2 2 h-60.5 z" fill="#2d62e6"/><text x="1158" y="542.2" text-anchor="end" class="lb">1,988.853</text>
<path d="M1100 76.1 h61 a2 2 0 0 1 2 2 v26.6 a2 2 0 0 1 -2 2 h-61 z" fill="#26a69a"/>
<text x="1158" y="87.7" text-anchor="end" class="lb">2,891.157</text>
<text x="1152" y="101.8" text-anchor="end" class="lb">14:31:33</text>
</g>
<path d="M1063 76.1 h35.8 v16.4 h-35.8 a2 2 0 0 1 -2 -2 v-12.4 a2 2 0 0 1 2 -2 z" fill="#26a69a"/>
<text x="1080" y="88.2" text-anchor="middle" class="lb" style="font-size:11.5px">GOLD</text>
<g clip-path="url(#tax)">
<text x="10.5" y="604.6" text-anchor="middle" class="tl">Feb</text><text x="97.5" y="604.6" text-anchor="middle" class="tl">Apr</text><text x="184.5" y="604.6" text-anchor="middle" class="tl">Jun</text><text x="271.5" y="604.6" text-anchor="middle" class="tl">Aug</text><text x="360.5" y="604.6" text-anchor="middle" class="tl">Oct</text><text x="492.5" y="604.6" text-anchor="middle" class="tl b">2024</text><text x="581.5" y="604.6" text-anchor="middle" class="tl">Mar</text><text x="668.5" y="604.6" text-anchor="middle" class="tl">May</text><text x="755.5" y="604.6" text-anchor="middle" class="tl">Jul</text><text x="847.5" y="604.6" text-anchor="middle" class="tl">Sep</text><text x="936.5" y="604.6" text-anchor="middle" class="tl">Nov</text><text x="1021.5" y="604.6" text-anchor="middle" class="tl b">2025</text>
</g>
<!-- flag icon -->
<g>
<circle cx="1086.2" cy="573.9" r="10.3" fill="#e04a5c" stroke="#fff" stroke-width="0.45"/>
<circle cx="1084.2" cy="573.9" r="10.3" fill="#e04a5c" stroke="#fff" stroke-width="0.45"/>
<circle cx="1082.2" cy="573.9" r="10.3" fill="#e04a5c" stroke="#fff" stroke-width="0.45"/>
<circle cx="1078.7" cy="573.9" r="10.6" fill="#b22f4b" stroke="#fff" stroke-width="0.8"/>
<circle cx="1078.7" cy="573.9" r="8.7" fill="#fff"/>
<g clip-path="url(#flagc)">
<rect x="1070" y="565" width="18" height="18" fill="#fff"/>
<rect x="1070" y="565" width="11.6" height="10.6" fill="#3b7fd2"/>
<g fill="#bfe0ff"><circle cx="1073.8" cy="568.2" r="0.6"/><circle cx="1076.6" cy="568.2" r="0.6"/><circle cx="1079.4" cy="568.2" r="0.6"/>
<circle cx="1073.8" cy="570.8" r="0.6"/><circle cx="1076.6" cy="570.8" r="0.6"/><circle cx="1079.4" cy="570.8" r="0.6"/>
<circle cx="1073.8" cy="573.4" r="0.6"/><circle cx="1076.6" cy="573.4" r="0.6"/><circle cx="1079.4" cy="573.4" r="0.6"/></g>
<rect x="1081.6" y="567.4" width="8" height="1.7" fill="#d8404f"/>
<rect x="1081.6" y="571.6" width="8" height="3.6" fill="#d8404f"/>
<rect x="1070" y="577.6" width="18" height="3.2" fill="#d8404f"/>
</g>
</g>
<!-- TV logo -->
<g transform="translate(10.2,624.9) scale(0.535)" fill="#131722">
<path d="M14 22H7V11H0V4h14v18zM28 22h-8l7.5-18h8L28 22z"/><circle cx="20" cy="8" r="4"/>
</g>
<text x="33" y="636.9" style="font-size:13px" fill="#131722">TradingView</text>
</svg>
</body></html>
